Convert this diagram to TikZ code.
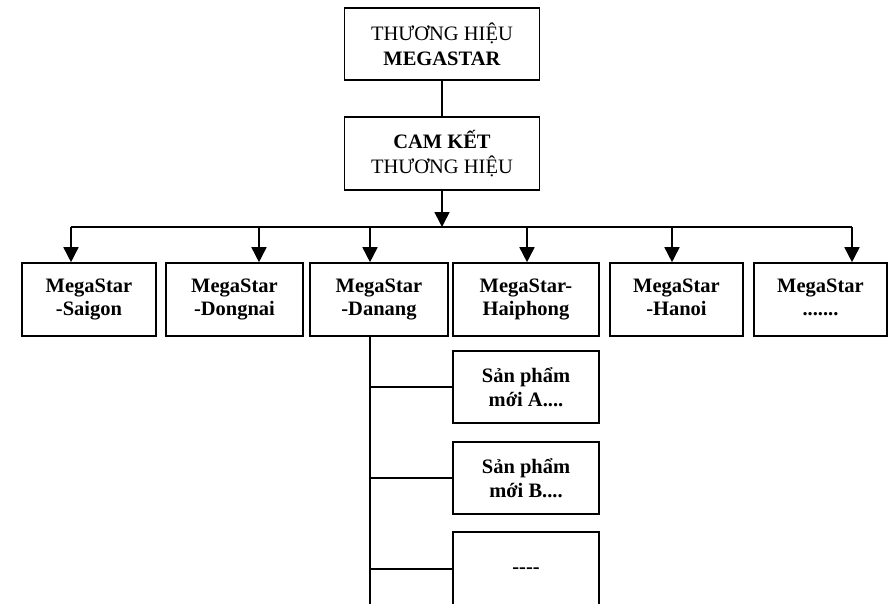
\documentclass[tikz,border=0pt]{standalone}
\usepackage{fontspec}
\setmainfont{Liberation Serif}
\usetikzlibrary{arrows.meta}
\tikzset{
  box/.style={draw, line width=1.6pt, align=center, inner sep=0pt,
    font=\fontsize{20.5}{25}\selectfont},
  bbox/.style={box, font=\fontsize{20.5}{23.5}\selectfont\bfseries},
  conn/.style={line width=1.6pt},
  arr/.style={conn, -{Triangle[length=15pt,width=15pt]}},
}
\begin{document}
\begin{tikzpicture}[x=1pt,y=-1pt]
\useasboundingbox (0,0) rectangle (888,604);
\clip (0,0) rectangle (888,604);
\node[box, minimum width=195pt, minimum height=72pt] (top) at (442,44) {THƯƠNG HIỆU\\\textbf{MEGASTAR}};
\node[box, minimum width=195pt, minimum height=73pt] (cam) at (442,153.5) {\textbf{CAM KẾT}\\THƯƠNG HIỆU};
\node[bbox, minimum width=134pt, minimum height=73pt] (b1) at (89,299.5) {\strut MegaStar\\-Saigon\strut};
\node[bbox, minimum width=137pt, minimum height=73pt] (b2) at (234.5,299.5) {\strut MegaStar\\-Dongnai\strut};
\node[bbox, minimum width=138pt, minimum height=73pt] (b3) at (379,299.5) {\strut MegaStar\\-Danang\strut};
\node[bbox, minimum width=146pt, minimum height=73pt] (b4) at (526,299.5) {\strut MegaStar-\\Haiphong\strut};
\node[bbox, minimum width=133pt, minimum height=73pt] (b5) at (676.5,299.5) {\strut MegaStar\\-Hanoi\strut};
\node[bbox, minimum width=133pt, minimum height=73pt] (b6) at (820.5,299.5) {\strut MegaStar\\.......\strut};
\node[bbox, minimum width=146pt, minimum height=72pt] (sA) at (526,387) {Sản phẩm\\mới A....};
\node[bbox, minimum width=146pt, minimum height=72pt] (sB) at (526,478) {Sản phẩm\\mới B....};
\node[bbox, minimum width=146pt, minimum height=84pt] (sC) at (526,574) {};
\node[font=\fontsize{20.5}{23}\selectfont\bfseries] (sCt) at (526,571) {-{}-{}-{}-};
\coordinate (j0) at (442,227);
\coordinate (j1) at (71,227);
\coordinate (j2) at (259,227);
\coordinate (j3) at (370,227);
\coordinate (j4) at (527,227);
\coordinate (j5) at (672,227);
\coordinate (j6) at (852,227);
\coordinate (vend) at (370,620);
\draw[conn] (top) -- (cam);
\draw[arr] (cam.south) -- (j0);
\draw[conn] (j1) -- (j6);
\foreach \i in {1,...,6} { \draw[arr] (j\i) -- (j\i |- b\i.north); }
\draw[conn] (j3 |- b3.south) -- (vend);
\draw[conn] (j3 |- sA.west) -- (sA.west);
\draw[conn] (j3 |- sB.west) -- (sB.west);
\draw[conn] (j3 |- 0,569) -- (sC.west |- 0,569);
\end{tikzpicture}
\end{document}
